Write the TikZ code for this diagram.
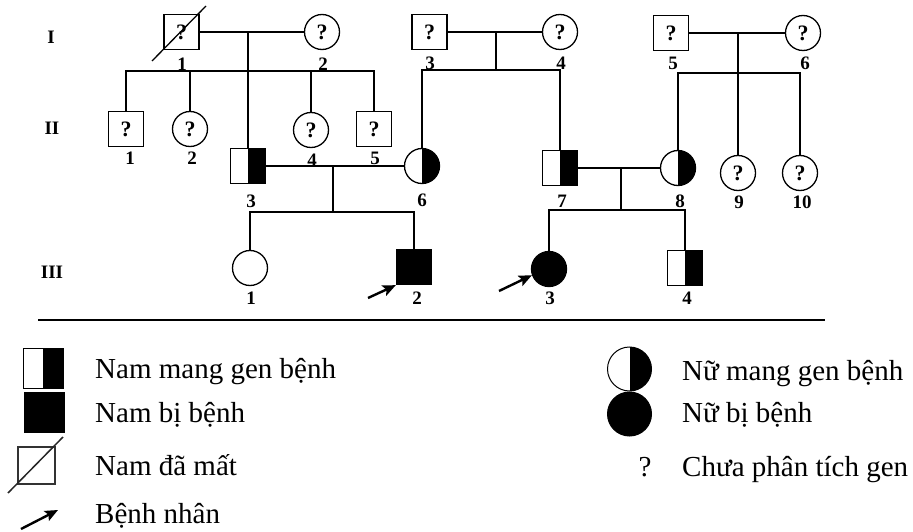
\documentclass[tikz,border=0pt]{standalone}
\usepackage{fontspec}
\setmainfont{Liberation Serif}
\usetikzlibrary{arrows.meta,calc}
\begin{document}
\begin{tikzpicture}[x=1pt,y=-1pt,
  lw/.style={line width=1.3pt},
  qfont/.style={font=\bfseries\fontsize{22}{22}\selectfont},
  sq/.style={draw, line width=1.3pt, minimum size=35pt, inner sep=0pt, qfont},
  ci/.style={draw, circle, line width=1.3pt, minimum size=35pt, inner sep=0pt, qfont},
  halff/.style={path picture={\fill[black] (path picture bounding box.north) rectangle (path picture bounding box.south east);}},
  full/.style={fill=black},
  lab/.style={font=\bfseries\fontsize{19}{19}\selectfont, inner sep=0pt},
  leg/.style={font=\fontsize{29}{29}\selectfont, anchor=base west, inner sep=0pt},
  lsym/.style={draw, line width=1pt, minimum size=40pt, inner sep=0pt},
  pointer/.style={line width=2.4pt, -{Stealth[length=13pt,width=11pt,inset=2.5pt]}}
]
\useasboundingbox (0,0) rectangle (913,532);

% generation labels
\node[lab] (gI) at (51,37) {I};
\node[lab] (gII) at (52,128) {II};
\node[lab] (gIII) at (52,272) {III};

% generation I
\node[sq] (I1) at (181.5,32) {?};
\node[ci] (I2) at (322,32) {?};
\node[sq] (I3) at (429.5,32) {?};
\node[ci] (I4) at (560,32) {?};
\node[sq] (I5) at (671,33) {?};
\node[ci] (I6) at (803,33) {?};
\draw[lw] ($(I1.center)+(-29.5,29)$) -- ($(I1.center)+(24.5,-26)$);

\node[lab] (lI1) at (182,64) {1};
\node[lab] (lI2) at (323,64) {2};
\node[lab] (lI3) at (430,63) {3};
\node[lab] (lI4) at (561,63) {4};
\node[lab] (lI5) at (673,63) {5};
\node[lab] (lI6) at (805,63) {6};

% generation II
\node[sq] (II1) at (126,129) {?};
\node[ci] (II2) at (190,129) {?};
\node[sq, halff] (II3) at (248,166) {};
\node[ci] (II4) at (311,130) {?};
\node[sq] (II5) at (374,129) {?};
\node[ci, halff] (II6) at (422,166) {};
\node[sq, halff] (II7) at (560,168) {};
\node[ci, halff] (II8) at (678,168) {};
\node[ci] (II9) at (738,173) {?};
\node[ci] (II10) at (800,173) {?};

\node[lab] (lII1) at (130,158) {1};
\node[lab] (lII2) at (192,158) {2};
\node[lab] (lII3) at (251,201) {3};
\node[lab] (lII4) at (312,160) {4};
\node[lab] (lII5) at (375,158) {5};
\node[lab] (lII6) at (422,200) {6};
\node[lab] (lII7) at (562,201) {7};
\node[lab] (lII8) at (680,201) {8};
\node[lab] (lII9) at (739,202) {9};
\node[lab] (lII10) at (802,202) {10};

% generation III
\node[ci] (III1) at (250,268) {};
\node[sq, full] (III2) at (414,267) {};
\node[ci, full] (III3) at (549,269) {};
\node[sq, halff] (III4) at (685,268) {};

\node[lab] (lIII1) at (251,298) {1};
\node[lab] (lIII2) at (417,298) {2};
\node[lab] (lIII3) at (550,298) {3};
\node[lab] (lIII4) at (687,298) {4};

% family connectors
\coordinate (m1) at (248,32);
\coordinate (s1) at (248,71);
\draw[lw] (I1.east) -- (I2.west);
\draw[lw] (m1) -- (II3.north);
\draw[lw] (II1.north) |- (s1) -| (II5.north);
\draw[lw] (II2.north) -- (II2.north |- s1);
\draw[lw] (II4.north) -- (II4.north |- s1);

\coordinate (m2) at (496,32);
\coordinate (s2) at (496,70);
\draw[lw] (I3.east) -- (I4.west);
\draw[lw] (m2) -- (s2);
\draw[lw] (II6.north) |- (s2) -| (II7.north);

\coordinate (m3) at (738,33);
\coordinate (s3) at (738,73);
\draw[lw] (I5.east) -- (I6.west);
\draw[lw] (m3) -- (II9.north);
\draw[lw] (II8.north) |- (s3) -| (II10.north);

\coordinate (m4) at (333,166);
\coordinate (s4) at (333,212);
\draw[lw] (II3.east) -- (II6.west);
\draw[lw] (m4) -- (s4);
\draw[lw] (III1.north) |- (s4) -| (III2.north);

\coordinate (m5) at (621,168);
\coordinate (s5) at (621,210);
\draw[lw] (II7.east) -- (II8.west);
\draw[lw] (m5) -- (s5);
\draw[lw] (III3.north) |- (s5) -| (III4.north);

% probands
\coordinate (p2) at (368,298);
\coordinate (p3) at (499,291);
\draw[pointer] (p2) -- (III2.south west);
\draw[pointer] (p3) -- (III3.200);

% rule
\coordinate (r1) at (38,320);
\coordinate (r2) at (825,320);
\draw[line width=2.6pt] (r1) -- (r2);

% legend left
\node[lsym, halff] (L1) at (43,368) {};
\node[lsym, full] (L2) at (44,412) {};
\node[lsym, minimum size=37pt, draw=black!80, line width=1.5pt] (L3) at (36.5,465.5) {};
\coordinate (d1) at (8,493);
\coordinate (d2) at (63,437);
\draw[line width=1.5pt, black!85] (d1) -- (d2);
\coordinate (a1) at (21,529);
\coordinate (a2) at (58,510);
\draw[pointer] (a1) -- (a2);

\node[leg] (T1) at (95,378) {Nam mang gen bệnh};
\node[leg] (T2) at (95,422) {Nam bị bệnh};
\node[leg] (T3) at (95,475) {Nam đã mất};
\node[leg] (T4) at (95,523) {Bệnh nhân};

% legend right
\node[lsym, circle, minimum size=44pt, halff] (R1) at (629.5,369) {};
\node[lsym, circle, minimum size=44pt, full] (R2) at (629.5,414) {};
\node[font=\fontsize{29}{29}\selectfont, anchor=base, inner sep=0pt] (R3) at (645,476) {?};

\node[leg] (T5) at (682,380) {Nữ mang gen bệnh};
\node[leg] (T6) at (682,422) {Nữ bị bệnh};
\node[leg] (T7) at (682,476) {Chưa phân tích gen};
\end{tikzpicture}
\end{document}
